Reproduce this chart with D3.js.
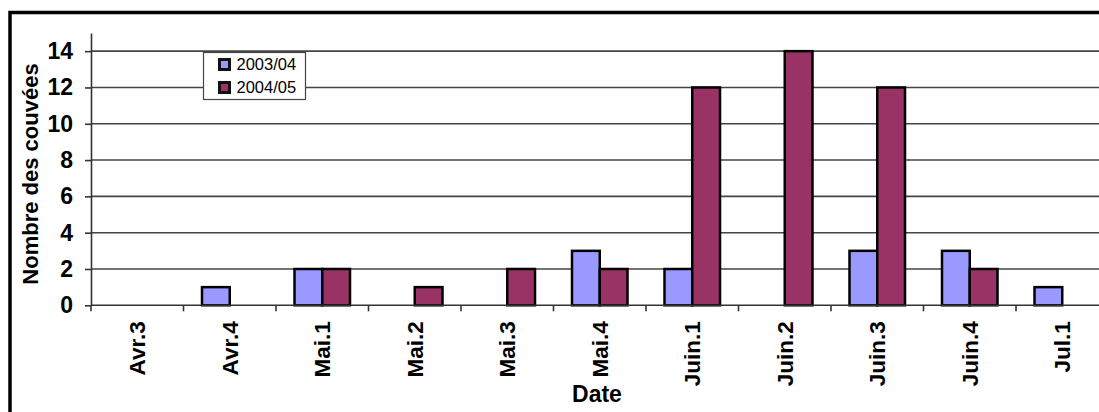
<!DOCTYPE html>
<html>
<head>
<meta charset="utf-8">
<script src="https://cdn.jsdelivr.net/npm/d3@7"></script>
<style>
  html, body { margin: 0; padding: 0; background: #fff; }
  svg { display: block; font-family: "Liberation Sans", Arial, sans-serif; }
</style>
</head>
<body>
<svg id="chart" width="1099" height="412"></svg>
<script>
// Weekly periods (month.week)
const categories = ["Avr.3", "Avr.4", "Mai.1", "Mai.2", "Mai.3", "Mai.4",
                    "Juin.1", "Juin.2", "Juin.3", "Juin.4", "Jul.1"];
const seriesNames = ["2003/04", "2004/05"];
const values2003 = [0, 1, 2, 0, 0, 3, 2, 0, 3, 3, 1];
const values2004 = [0, 0, 2, 1, 2, 2, 12, 14, 12, 2, 0];
const yTicks = [0, 2, 4, 6, 8, 10, 12, 14];
const colors = ["#9999ff", "#993366"];

(function () {
  const svg = d3.select("#chart");
  const W = 1099, H = 412;

  // Plot area
  const plotLeft = 91, plotTop = 33, plotBottom = 305.3;
  const bandW = 92.5;
  const plotRight = plotLeft + bandW * categories.length;

  const x = d3.scaleBand().domain(categories).range([plotLeft, plotRight]).padding(0);
  const xs = d3.scaleBand().domain(seriesNames)
    .range([bandW * 0.2, bandW * 0.8]).padding(0);
  const y = d3.scaleLinear().domain([0, 15]).range([plotBottom, plotTop]);

  // Outer frame
  svg.append("rect")
    .attr("x", 10).attr("y", 12.5)
    .attr("width", W + 20).attr("height", H + 20)
    .attr("fill", "none").attr("stroke", "#000").attr("stroke-width", 3.5);

  // Horizontal gridlines
  svg.append("g").selectAll("line").data(yTicks.filter(d => d > 0)).join("line")
    .attr("x1", plotLeft).attr("x2", W)
    .attr("y1", d => y(d)).attr("y2", d => y(d))
    .attr("stroke", "#444").attr("stroke-width", 1.6);

  // Bars
  const rows = categories.map((c, i) => ({ cat: c, vals: [values2003[i], values2004[i]] }));
  const groups = svg.append("g").selectAll("g").data(rows).join("g")
    .attr("transform", d => `translate(${x(d.cat)},0)`);
  groups.selectAll("rect")
    .data(d => d.vals.map((v, j) => ({ name: seriesNames[j], v, j })).filter(e => e.v > 0))
    .join("rect")
    .attr("x", d => xs(d.name))
    .attr("width", xs.bandwidth())
    .attr("y", d => y(d.v))
    .attr("height", d => y(0) - y(d.v))
    .attr("fill", d => colors[d.j])
    .attr("stroke", "#000").attr("stroke-width", 2.5);

  // Y axis
  const yAxis = svg.append("g").attr("transform", `translate(${plotLeft},0)`)
    .call(d3.axisLeft(y).tickValues(yTicks).tickSize(6).tickPadding(12).tickSizeOuter(0));
  yAxis.select(".domain").attr("stroke", "#333").attr("stroke-width", 1.6);
  yAxis.selectAll(".tick line").attr("stroke", "#333").attr("stroke-width", 1.6);
  yAxis.selectAll(".tick text")
    .attr("font-size", 23).attr("font-weight", "bold").attr("fill", "#000")
    .attr("font-family", "'Liberation Sans', Arial, sans-serif");

  // X axis baseline and tick marks at category boundaries
  svg.append("line")
    .attr("x1", plotLeft).attr("x2", W).attr("y1", y(0)).attr("y2", y(0))
    .attr("stroke", "#333").attr("stroke-width", 1.6);
  svg.append("g").selectAll("line").data(categories).join("line")
    .attr("x1", d => x(d)).attr("x2", d => x(d))
    .attr("y1", y(0)).attr("y2", y(0) + 6)
    .attr("stroke", "#333").attr("stroke-width", 1.6);

  // Category labels (rotated)
  svg.append("g").selectAll("text").data(categories).join("text")
    .attr("transform", d => `translate(${x(d) + x.bandwidth() / 2},${y(0) + 16}) rotate(-90)`)
    .attr("text-anchor", "end").attr("dy", "0.36em")
    .attr("font-size", 22.5).attr("font-weight", "bold")
    .text(d => d);

  // Axis titles
  svg.append("text")
    .attr("transform", `translate(37.5,174) rotate(-90)`)
    .attr("text-anchor", "middle")
    .attr("font-size", 22).attr("font-weight", "bold")
    .text("Nombre des couvées");
  svg.append("text")
    .attr("x", 597).attr("y", 402)
    .attr("text-anchor", "middle")
    .attr("font-size", 23).attr("font-weight", "bold")
    .text("Date");

  // Legend
  const lg = svg.append("g").attr("transform", "translate(203.5,52.5)");
  lg.append("rect").attr("width", 102).attr("height", 47)
    .attr("fill", "#fff").attr("stroke", "#444").attr("stroke-width", 1.2);
  const items = lg.selectAll("g").data(seriesNames).join("g")
    .attr("transform", (d, i) => `translate(16,${12 + i * 23})`);
  items.append("rect").attr("x", 0).attr("y", -5).attr("width", 10).attr("height", 10)
    .attr("fill", (d, i) => colors[i]).attr("stroke", "#111").attr("stroke-width", 3);
  items.append("text").attr("x", 17).attr("dy", "0.36em")
    .attr("font-size", 16.5).text(d => d);
})();
</script>
</body>
</html>
